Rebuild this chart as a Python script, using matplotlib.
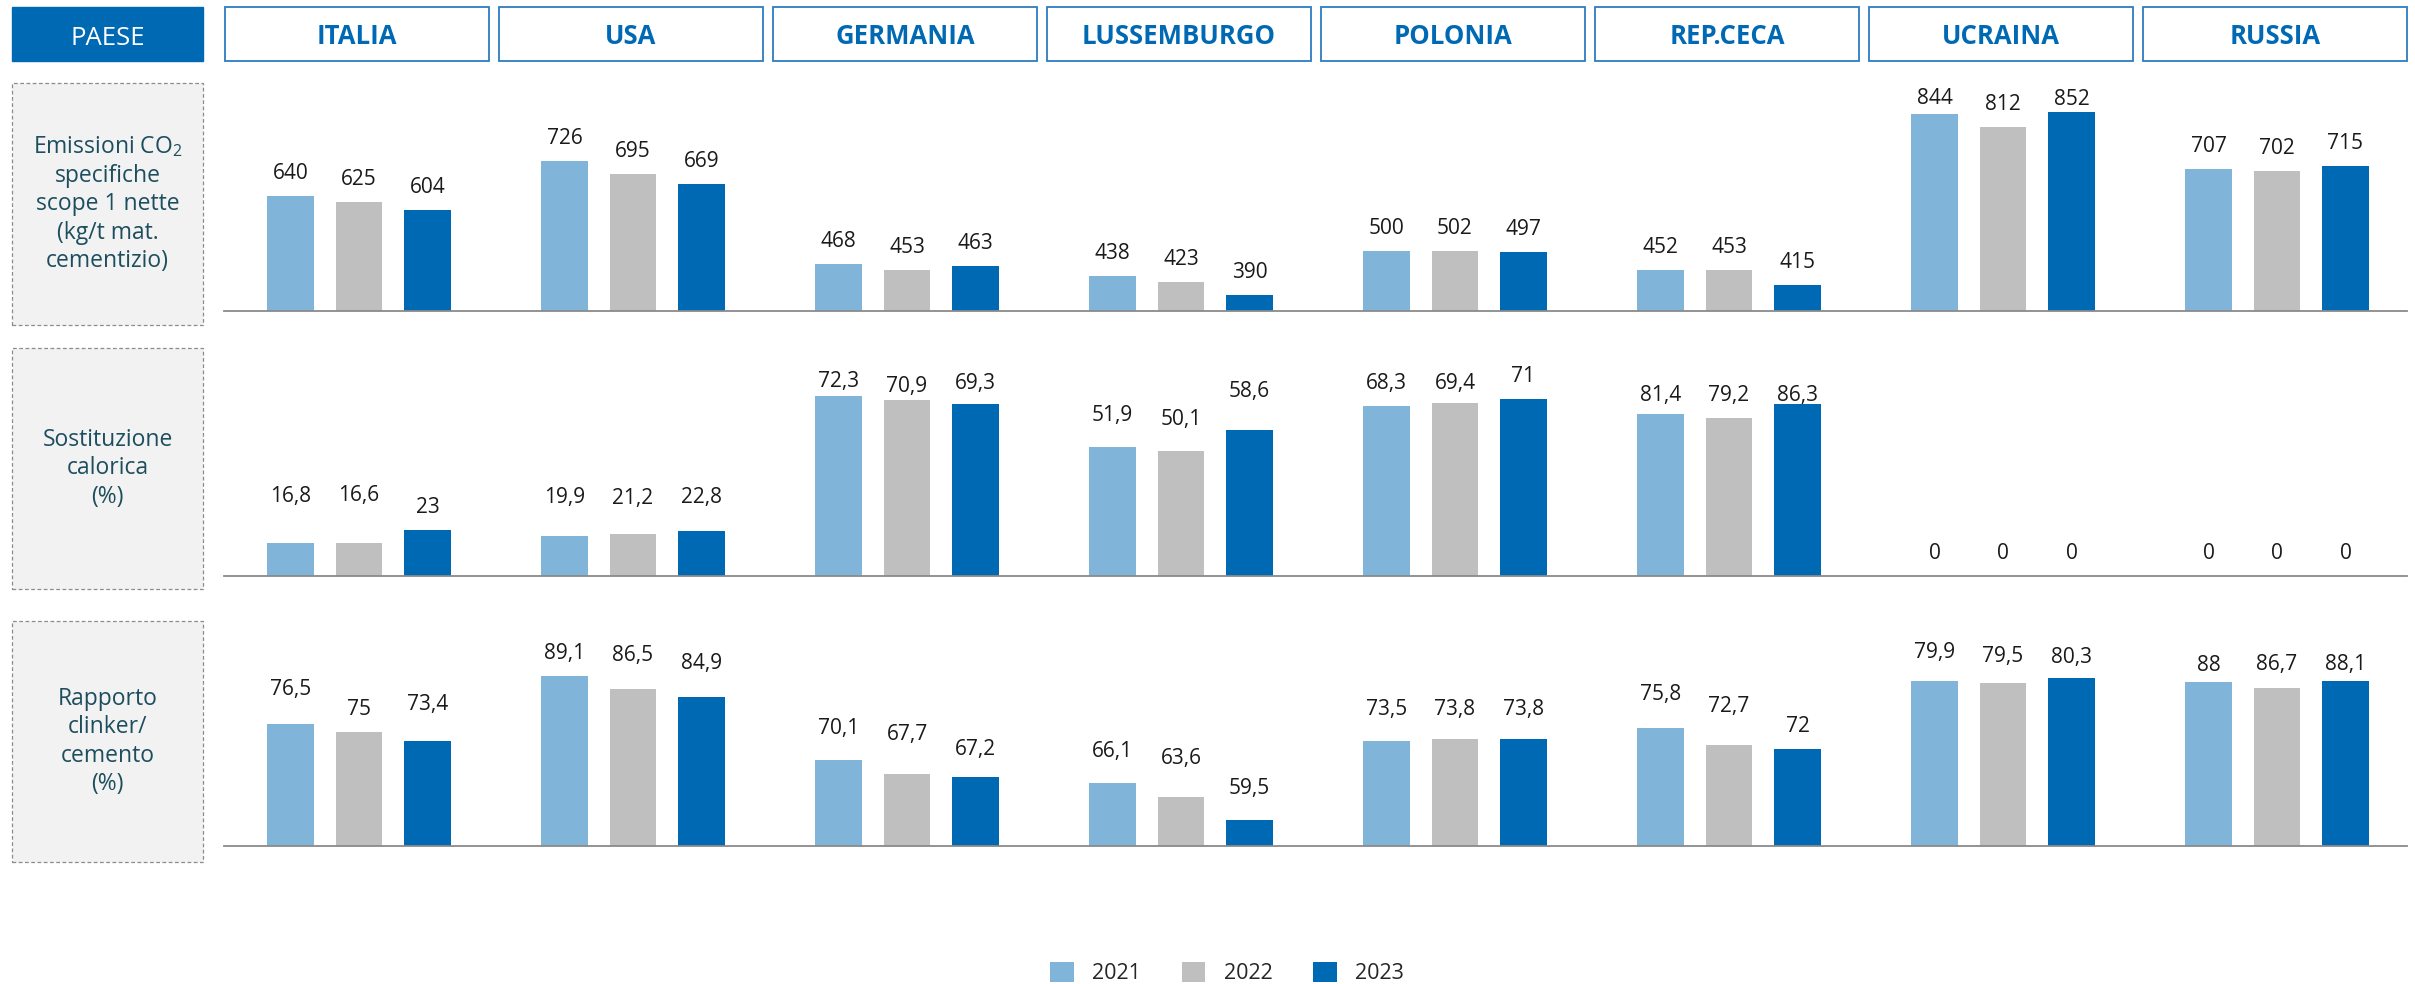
import matplotlib
matplotlib.use('Agg')
import matplotlib.pyplot as plt
from matplotlib.patches import Rectangle
from matplotlib.lines import Line2D

plt.rcParams['font.family'] = ['Open Sans', 'DejaVu Sans']
plt.rcParams['mathtext.fontset'] = 'custom'
plt.rcParams['mathtext.rm'] = 'Open Sans'

# ---------------- data ----------------
countries = ['ITALIA', 'USA', 'GERMANIA', 'LUSSEMBURGO', 'POLONIA', 'REP.CECA', 'UCRAINA', 'RUSSIA']
years = ['2021', '2022', '2023']

emissioni_2021 = [640, 726, 468, 438, 500, 452, 844, 707]
emissioni_2022 = [625, 695, 453, 423, 502, 453, 812, 702]
emissioni_2023 = [604, 669, 463, 390, 497, 415, 852, 715]

sostituzione_2021 = [16.8, 19.9, 72.3, 51.9, 68.3, 81.4, 0, 0]
sostituzione_2022 = [16.6, 21.2, 70.9, 50.1, 69.4, 79.2, 0, 0]
sostituzione_2023 = [23, 22.8, 69.3, 58.6, 71, 86.3, 0, 0]

clinker_2021 = [76.5, 89.1, 70.1, 66.1, 73.5, 75.8, 79.9, 88]
clinker_2022 = [75, 86.5, 67.7, 63.6, 73.8, 72.7, 79.5, 86.7]
clinker_2023 = [73.4, 84.9, 67.2, 59.5, 73.8, 72, 80.3, 88.1]

row_labels = [
    'Emissioni CO$_\\mathregular{2}$\nspecifiche\nscope 1 nette\n(kg/t mat.\ncementizio)',
    'Sostituzione\ncalorica\n(%)',
    'Rapporto\nclinker/\ncemento\n(%)',
]
header_label = 'PAESE'

# ---------------- layout / style ----------------
W, H = 2415, 984
DPI = 100
col_light, col_gray, col_blue = '#80b4d9', '#bfbfbf', '#0069b4'
year_colors = [col_light, col_gray, col_blue]

rows = [
    [emissioni_2021, emissioni_2022, emissioni_2023],
    [sostituzione_2021, sostituzione_2022, sostituzione_2023],
    [clinker_2021, clinker_2022, clinker_2023],
]
row_ylim = [
    [(350, 850)] * 8,
    [(0, 100), (0, 100), (0, 80), (0, 80), (0, 80), (0, 100), (0, 100), (0, 100)],
    [(55, 90), (55, 95), (55, 90), (55, 90), (55, 90), (55, 90), (55, 85), (55, 95)],
]
# label gap above bar top (pixels)
row_gap = [
    [[17, 17, 17]] * 6 + [[10, 17, 6], [17, 17, 17]],
    [[41, 42, 17], [33, 30, 28], [9, 8, 15], [26, 26, 33], [17, 14, 17], [13, 17, 3], [17, 17, 17], [17, 17, 17]],
    [[29, 17, 31], [17, 28, 28], [26, 34, 22], [26, 33, 26], [26, 24, 24], [28, 33, 17], [23, 21, 15], [11, 18, 11]],
]
baselines = [311, 576, 846]
plot_h = 199
label_boxes = [(83, 325), (348, 589), (621, 862)]
group_c0, group_pitch, cell_w = 359, 274, 274


def fx(x):
    return x / W


def fy(y):
    return 1 - y / H


def fmt(v):
    if float(v) == int(v):
        return str(int(v))
    return ('%.1f' % v).replace('.', ',')


fig = plt.figure(figsize=(W / DPI, H / DPI), dpi=DPI)

# header
fig.add_artist(Rectangle((fx(12), fy(61)), fx(203 - 12), (61 - 7) / H,
                         transform=fig.transFigure, facecolor=col_blue, edgecolor=col_blue, lw=1))
fig.text(fx(107.5), fy(45), header_label, color='white', fontsize=18.5,
         ha='center', va='baseline')
for i, c in enumerate(countries):
    cx = group_c0 + group_pitch * i - 2
    fig.add_artist(Rectangle((fx(cx - 132), fy(61)), fx(264), (61 - 7) / H,
                             transform=fig.transFigure, facecolor='white',
                             edgecolor='#2e7cc2', lw=1.3))
    fig.text(fx(cx), fy(44.5), c, color=col_blue, fontsize=18.5, fontweight='bold',
             ha='center', va='baseline')

# row label boxes
for (top, bot), txt in zip(label_boxes, row_labels):
    fig.add_artist(Rectangle((fx(12), fy(bot)), fx(203 - 12), (bot - top) / H,
                             transform=fig.transFigure, facecolor='#f2f2f2',
                             edgecolor='#8c8c8c', lw=0.9, linestyle=(0, (3, 2))))
    fig.text(fx(107.5), fy((top + bot) / 2), txt, color='#1d4e5e', fontsize=16.5,
             ha='center', va='center', linespacing=1.25, multialignment='center')

handles = None
for r, series in enumerate(rows):
    b = baselines[r]
    for i in range(len(countries)):
        cx = group_c0 + group_pitch * i
        ax = fig.add_axes([fx(cx - cell_w / 2), fy(b), fx(cell_w), plot_h / H])
        ax.set_xlim(-2, 2)
        ax.set_ylim(*row_ylim[r][i])
        ax.axis('off')
        bars = []
        for k in range(3):
            v = series[k][i]
            bc = ax.bar(k - 1, v, width=0.672, color=year_colors[k], label=years[k])
            bars.append(bc)
            ax.annotate(fmt(v), xy=(k - 1, v), xytext=(0, row_gap[r][i][k]),
                        textcoords='offset pixels', ha='center', va='baseline',
                        fontsize=15, color='#1a1a1a', annotation_clip=False)
        if handles is None:
            handles = bars
    fig.add_artist(Line2D([fx(224), fx(2407)], [fy(b), fy(b)], transform=fig.transFigure,
                          color='#8a8a8a', lw=1.3))

leg = fig.legend(handles, years, loc='center', bbox_to_anchor=(fx(1227), fy(973)),
                 ncol=3, frameon=False, fontsize=15.5, handlelength=1.1, handleheight=1.1,
                 handletextpad=0.85, columnspacing=1.9, borderpad=0, labelcolor='#262626')

fig.savefig('out.png', dpi=DPI)
